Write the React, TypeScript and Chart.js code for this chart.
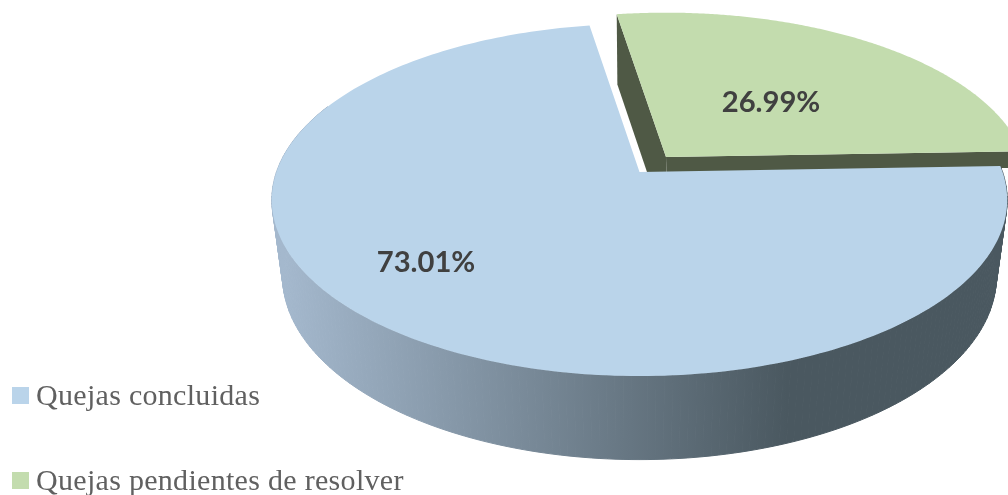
import React, { useEffect, useRef } from "react";
import { Chart, registerables } from "chart.js";

Chart.register(...registerables);

const categories = ["Quejas concluidas", "Quejas pendientes de resolver"];
const shares = [73.01, 26.99];
const topColors = ["#bad4ea", "#c3dcae"];

// Perspective disc geometry: how a unit circle is projected on the page.
const K = -0.159;
const TOP = { cx: 639.5, cy: 172, rx: 363, ry: 171.6 };
const BOTTOM = { cx: 639.5, cy: 247, rx: 352.4, ry: 178.8 };
const GREEN_TOP = { cx: 666, cy: 157, rx: 358, ry: 167.3 };
const GREEN_BOTTOM = { cx: 669, cy: 237, rx: 375, ry: 178.8 };
const LABEL_POS = [
  { x: 426, y: 263 },
  { x: 771, y: 102.5 },
];
const LEGEND_POS = [
  { x: 12, y: 387, tx: 36, ty: 397 },
  { x: 12, y: 472, tx: 36, ty: 482 },
];

type Pt = [number, number];
function project(g: typeof TOP, a: number, r: number): Pt {
  const x = Math.cos(a) * r;
  const y = Math.sin(a) * r;
  const w = 1 + K * y;
  return [g.cx + (g.rx * x) / w, g.cy + (g.ry * y) / w];
}

function rim(g: typeof TOP, a0: number, a1: number): Pt[] {
  const pts: Pt[] = [];
  const n = 240;
  for (let i = 0; i <= n; i++) pts.push(project(g, a0 + ((a1 - a0) * i) / n, 1));
  return pts;
}

function poly(ctx: CanvasRenderingContext2D, pts: Pt[]) {
  ctx.beginPath();
  pts.forEach((p, i) => (i ? ctx.lineTo(p[0], p[1]) : ctx.moveTo(p[0], p[1])));
  ctx.closePath();
}

const pie3d = {
  id: "pie3d",
  beforeDatasetDraw(chart: any) {
    const ctx: CanvasRenderingContext2D = chart.ctx;
    const arcs = chart.getDatasetMeta(0).data;
    const blue = arcs[0];
    const green = arcs[1];

    ctx.save();
    // exploded slice: walls first, then its top face
    const olive = "#4f5945";
    const gTop = project(GREEN_TOP, 0, 0);
    const gBot = project(GREEN_BOTTOM, 0, 0);
    const gRimT = rim(GREEN_TOP, green.startAngle, green.endAngle);
    const gRimB = rim(GREEN_BOTTOM, green.startAngle, green.endAngle);
    ctx.save();
    ctx.beginPath();
    ctx.rect(0, 0, 1008, 168);
    ctx.rect(0, 168, 1002, 327);
    ctx.clip();
    ctx.fillStyle = olive;
    poly(ctx, [gTop, gRimT[0], gRimB[0], gBot]);
    ctx.fill();
    poly(ctx, [gTop, gRimT[gRimT.length - 1], gRimB[gRimB.length - 1], gBot]);
    ctx.fill();
    ctx.restore();
    ctx.fillStyle = topColors[1];
    poly(ctx, [gTop, ...gRimT]);
    ctx.fill();

    // large slice: curved wall with a horizontal gradient, then its top face
    const grad = ctx.createLinearGradient(285, 0, 787, 0);
    grad.addColorStop(0, "#a4b8cd");
    grad.addColorStop(1, "#4a5860");
    const t = rim(TOP, blue.startAngle, blue.endAngle);
    const b = rim(BOTTOM, blue.startAngle, blue.endAngle);
    ctx.fillStyle = grad;
    ctx.strokeStyle = grad;
    ctx.lineWidth = 1;
    for (let i = 0; i < t.length - 1; i++) {
      if (Math.sin(blue.startAngle + ((blue.endAngle - blue.startAngle) * i) / (t.length - 1)) < -0.4) continue;
      poly(ctx, [t[i], t[i + 1], b[i + 1], b[i]]);
      ctx.fill();
      ctx.stroke();
    }
    ctx.fillStyle = topColors[0];
    poly(ctx, [project(TOP, 0, 0), ...t]);
    ctx.fill();

    // value labels
    ctx.fillStyle = "#404040";
    ctx.font = "bold 29.2px Lato";
    ctx.textAlign = "center";
    ctx.textBaseline = "middle";
    shares.forEach((v, i) => ctx.fillText(v.toFixed(2) + "%", LABEL_POS[i].x, LABEL_POS[i].y));

    // legend
    ctx.textAlign = "left";
    ctx.font = "30px 'Liberation Serif'";
    (ctx as any).letterSpacing = "0.3px";
    categories.forEach((c, i) => {
      const p = LEGEND_POS[i];
      ctx.fillStyle = topColors[i];
      ctx.fillRect(p.x, p.y, 17, 17);
      ctx.fillStyle = "#606060";
      ctx.fillText(c, p.tx, p.ty);
    });
    ctx.restore();
    return false;
  },
};

export default function App() {
  const ref = useRef<HTMLCanvasElement>(null);
  useEffect(() => {
    const chart = new Chart(ref.current!, {
      type: "pie",
      data: {
        labels: categories,
        datasets: [{ data: shares, backgroundColor: topColors, borderWidth: 0 }],
      },
      options: {
        responsive: false,
        animation: false,
        rotation: 88,
        plugins: { legend: { display: false }, tooltip: { enabled: false } },
      },
      plugins: [pie3d],
    } as any);
    return () => chart.destroy();
  }, []);
  return (
    <div style={{ position: "fixed", left: 0, top: 0, width: 1008, height: 495, background: "#fff" }}>
      <canvas ref={ref} width={1008} height={495} style={{ display: "block" }} />
    </div>
  );
}
